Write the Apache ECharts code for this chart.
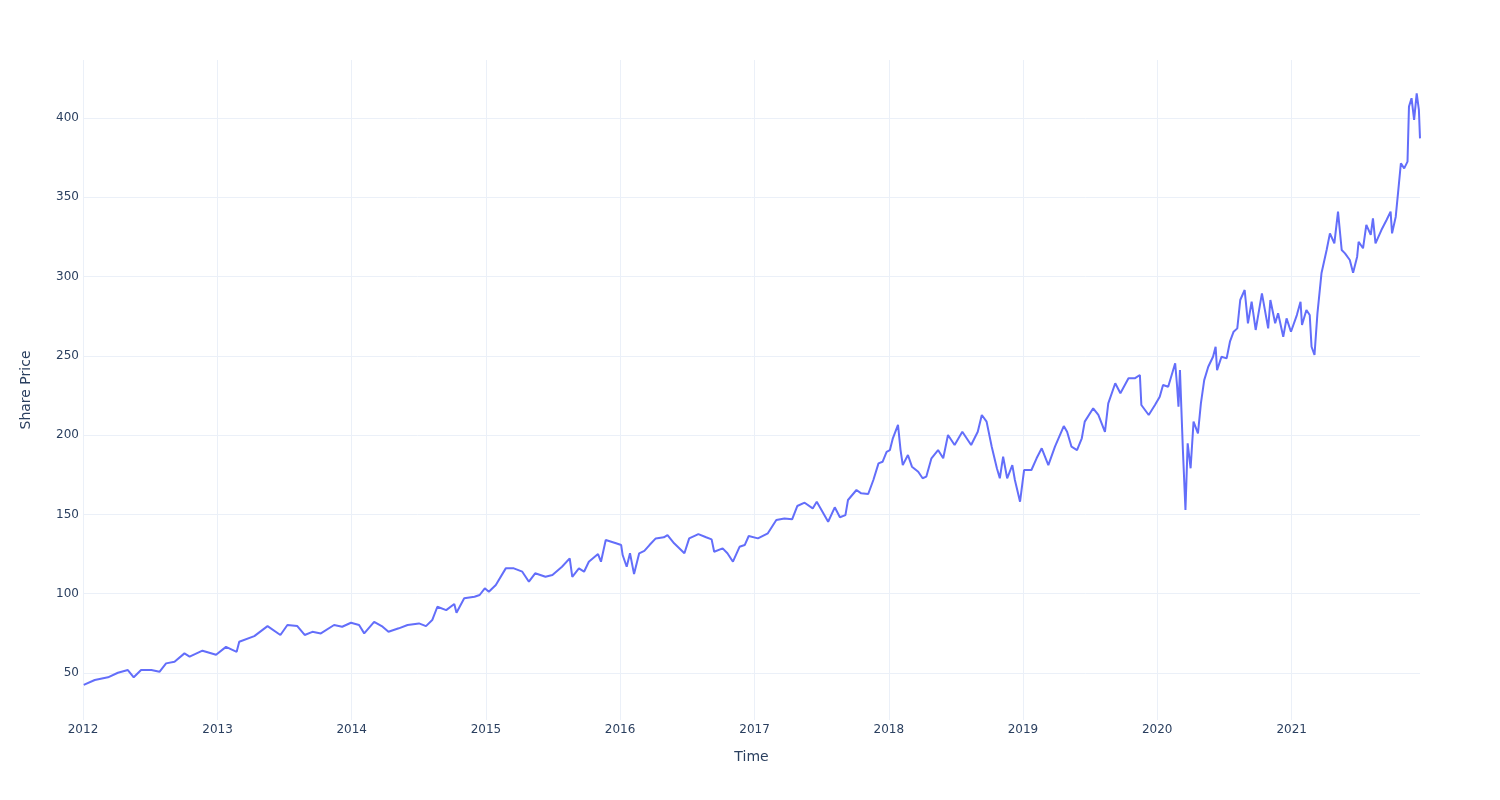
<!DOCTYPE html>
<html>
<head>
<meta charset="utf-8">
<script src="https://cdn.jsdelivr.net/npm/echarts@6/dist/echarts.min.js"></script>
<style>html,body{margin:0;padding:0;background:#fff}#c{width:1500px;height:800px}</style>
</head>
<body>
<div id="c"></div>
<script>
const dates = [
'2012-01-03','2012-02-02','2012-03-09','2012-04-05','2012-05-02','2012-05-18','2012-06-07','2012-07-05','2012-07-27','2012-08-14','2012-09-06','2012-10-03','2012-10-17','2012-11-21','2012-12-28',
'2013-01-24','2013-02-22','2013-03-01','2013-04-11','2013-05-17','2013-06-21','2013-07-10','2013-08-06','2013-08-26','2013-09-16','2013-10-09','2013-11-14','2013-12-06','2013-12-30',
'2014-01-21','2014-02-04','2014-03-03','2014-03-26','2014-04-11','2014-05-09','2014-06-02','2014-07-03','2014-07-22','2014-08-08','2014-08-22','2014-09-15','2014-10-07','2014-10-13','2014-11-03','2014-12-01','2014-12-15','2014-12-29',
'2015-01-09','2015-01-28','2015-02-24','2015-03-18','2015-04-10','2015-04-28','2015-05-15','2015-06-12','2015-07-01','2015-07-27','2015-08-17','2015-08-24','2015-09-11','2015-09-25','2015-10-08','2015-11-02','2015-11-10','2015-11-23','2015-12-21',
'2016-01-04','2016-01-08','2016-01-19','2016-01-28','2016-02-08','2016-02-22','2016-03-07','2016-03-21','2016-04-07','2016-04-29','2016-05-09','2016-05-27','2016-06-24','2016-07-07','2016-08-01','2016-08-22','2016-09-06','2016-09-13','2016-10-06','2016-10-19','2016-11-03','2016-11-21','2016-12-05','2016-12-16',
'2017-01-10','2017-02-06','2017-03-01','2017-03-23','2017-04-13','2017-04-27','2017-05-17','2017-06-08','2017-06-19','2017-07-03','2017-07-20','2017-08-07','2017-08-21','2017-09-05','2017-09-12','2017-10-05','2017-10-18','2017-11-06','2017-11-20','2017-12-04','2017-12-15','2017-12-26',
'2018-01-04','2018-01-12','2018-01-26','2018-02-02','2018-02-08','2018-02-22','2018-03-05','2018-03-22','2018-04-03','2018-04-13','2018-04-27','2018-05-15','2018-05-29','2018-06-11','2018-06-29','2018-07-20','2018-08-13','2018-08-31','2018-09-11','2018-09-24','2018-10-08','2018-10-22','2018-10-30','2018-11-08','2018-11-19','2018-12-03','2018-12-10','2018-12-24',
'2019-01-04','2019-01-24','2019-02-07','2019-02-21','2019-03-11','2019-03-29','2019-04-22','2019-05-01','2019-05-13','2019-05-28','2019-06-10','2019-06-18','2019-07-11','2019-07-25','2019-08-12','2019-08-21','2019-09-09','2019-09-23','2019-10-15','2019-11-01','2019-11-15','2019-11-19','2019-12-09','2019-12-26',
'2020-01-08','2020-01-17','2020-01-31','2020-02-19','2020-02-24','2020-02-28','2020-03-03','2020-03-11','2020-03-18','2020-03-24','2020-04-01','2020-04-09','2020-04-21','2020-04-29','2020-05-08','2020-05-19','2020-06-01','2020-06-08','2020-06-12','2020-06-24','2020-07-08','2020-07-17','2020-07-27','2020-08-06','2020-08-14','2020-08-26','2020-09-04','2020-09-14','2020-09-25','2020-10-12','2020-10-29','2020-11-04','2020-11-17','2020-11-25','2020-12-09','2020-12-18','2020-12-30',
'2021-01-15','2021-01-25','2021-01-29','2021-02-10','2021-02-19','2021-02-24','2021-03-04','2021-03-12','2021-03-23','2021-04-06','2021-04-15','2021-04-27','2021-05-07','2021-05-17','2021-05-26','2021-06-08','2021-06-17','2021-06-28','2021-07-02','2021-07-14','2021-07-23','2021-08-04','2021-08-10','2021-08-17','2021-09-02','2021-09-16','2021-09-27','2021-10-01','2021-10-11','2021-10-18','2021-10-25','2021-11-03','2021-11-12','2021-11-16','2021-11-23','2021-11-30','2021-12-07','2021-12-13','2021-12-16'
];
const prices = [
42.5,45.6,47.3,50.2,51.9,47.3,51.9,51.9,50.8,56.1,57.1,62.4,60.3,64.1,61.5,
66.5,63.4,69.7,73.3,79.6,74.0,80.3,79.6,74.0,76.0,75.0,80.3,79.2,81.7,
80.3,75.0,82.3,79.2,76.0,78.2,80.3,81.3,79.6,83.4,91.8,89.7,93.5,88.0,97.1,98.1,99.2,103.4,
101.3,105.5,116.0,116.0,113.9,107.6,112.9,110.7,111.8,117.0,122.3,110.7,116.0,113.9,120.2,125.0,120.2,133.9,131.8,
130.7,124.4,117.0,125.5,112.4,125.5,127.0,130.7,134.9,135.6,137.0,131.8,125.5,134.9,137.6,135.6,134.3,126.5,128.6,125.5,120.2,129.6,130.7,136.4,
134.9,138.1,146.5,147.5,146.9,155.3,157.4,153.8,158.0,152.3,145.4,154.5,148.2,149.6,159.1,165.4,163.3,162.9,171.7,182.2,183.2,189.5,
190.6,198.0,206.4,190.6,181.1,187.5,180.1,176.9,172.8,173.8,185.4,190.6,185.4,200.1,193.8,202.1,193.8,202.1,212.7,208.5,192.7,179.1,172.8,186.4,172.8,181.1,171.7,158.0,
178.0,178.0,185.4,191.7,181.1,192.7,205.7,202.1,192.7,190.6,198.0,208.5,216.9,212.7,202.1,220.0,232.7,226.4,235.8,235.8,237.9,219.0,212.7,219.0,
224.2,231.6,230.5,245.3,231.6,217.9,241.0,190.6,152.8,194.8,179.1,208.5,201.1,220.0,234.7,243.1,249.4,255.7,241.0,249.4,248.4,258.9,265.2,267.3,285.2,291.5,270.5,284.1,266.3,289.4,267.3,285.2,270.5,276.8,262.0,273.6,265.2,
275.7,284.1,269.4,278.9,275.7,255.7,250.5,276.8,302.0,316.7,327.2,320.9,340.9,316.7,314.6,310.4,302.4,312.5,321.9,317.8,332.5,326.2,336.7,320.9,329.3,335.6,340.9,327.2,337.7,354.5,371.4,368.2,372.4,407.1,412.4,398.7,415.5,405.0,387.1
];
const xTitle = 'Time';
const yTitle = 'Share Price';

const chart = echarts.init(document.getElementById('c'), null, {renderer: 'canvas'});
const font = 'DejaVu Sans, Verdana, sans-serif';
const grid = '#ebf0f8';
chart.setOption({
  animation: false,
  backgroundColor: '#ffffff',
  grid: {left: 83, right: 80, top: 60, bottom: 80, containLabel: false},
  xAxis: {
    type: 'time',
    min: '2012-01-01',
    max: dates[dates.length - 1],
    minInterval: 365 * 86400000,
    maxInterval: 366 * 86400000,
    name: xTitle,
    nameLocation: 'middle',
    nameGap: 30,
    nameTextStyle: {color: '#2a3f5f', fontSize: 14, fontFamily: font},
    axisLine: {show: false},
    axisTick: {show: false},
    axisLabel: {
      color: '#2a3f5f', fontSize: 12, fontFamily: font, margin: 4,
      showMaxLabel: false,
      formatter: function (v) { return String(new Date(v).getUTCFullYear()); }
    },
    splitLine: {show: true, showMaxLine: false, lineStyle: {color: grid, width: 1}}
  },
  yAxis: {
    type: 'value',
    min: 20.4,
    max: 436.5,
    splitNumber: 8,
    name: yTitle,
    nameLocation: 'middle',
    nameRotate: 90,
    nameGap: 50,
    nameTextStyle: {color: '#2a3f5f', fontSize: 14, fontFamily: font},
    axisLine: {show: false},
    axisTick: {show: false},
    axisLabel: {color: '#2a3f5f', fontSize: 12, fontFamily: font, margin: 4, showMinLabel: false, showMaxLabel: false},
    splitLine: {show: true, showMinLine: false, showMaxLine: false, lineStyle: {color: grid, width: 1}}
  },
  series: [{
    type: 'line',
    data: dates.map((d, i) => [d, prices[i]]),
    showSymbol: false,
    symbol: 'none',
    lineStyle: {color: '#636efa', width: 2},
    itemStyle: {color: '#636efa'}
  }]
});
</script>
</body>
</html>
